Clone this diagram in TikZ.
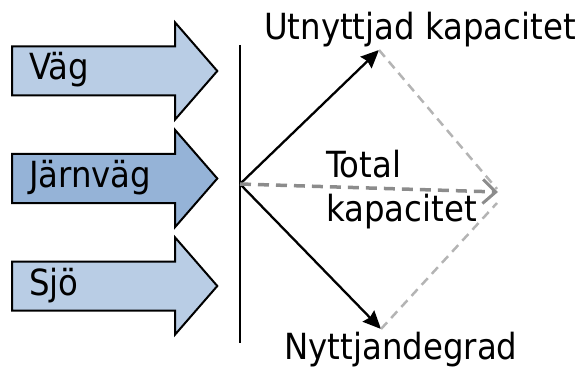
\documentclass[tikz,border=0pt]{standalone}
\usepackage{fontspec}
\setmainfont{DejaVu Sans Condensed}
\usetikzlibrary{shapes.arrows,arrows.meta}

\definecolor{ljusbla}{HTML}{B9CDE5}
\definecolor{morkbla}{HTML}{95B3D7}
\definecolor{gra}{HTML}{8C8C8C}
\definecolor{ljusgra}{HTML}{B4B4B4}

\tikzset{
  trafik/.style={single arrow, draw=black, line width=2, fill=ljusbla,
    single arrow tip angle=98, single arrow head extend=24,
    text width=150, align=left, inner xsep=16, inner ysep=5.5,
    text height=27, text depth=9, anchor=tail,
    font=\fontsize{36}{40}\selectfont},
  etikett/.style={inner sep=0, font=\fontsize{36}{44}\selectfont}
}

\begin{document}
\begin{tikzpicture}[x=1pt,y=-1pt]
\useasboundingbox (0,0) rectangle (582,369);

%Block Arrows
\node [trafik] (vag) at (11,71) {Väg};
\node [trafik, fill=morkbla] (jarnvag) at (11,178.5) {Järnväg};
\node [trafik] (sjo) at (11,286) {Sjö};

%Points
\coordinate (topp) at (240,45);
\coordinate (botten) at (240,343);
\coordinate (o) at (240,184);
\coordinate (u) at (379,50);
\coordinate (n) at (381,329);
\coordinate (t) at (498,192);

%Straight Lines
\draw [line width=2.3] (topp) -- (botten);
\draw [line width=2.3, -{Stealth[length=18,width=16,inset=2]}] (o) -- (u);
\draw [line width=2.3, -{Stealth[length=18,width=16,inset=2]}] (o) -- (n);
%Dashed Lines
\draw [ljusgra, line width=2.5, dash pattern=on 9 off 6] (u) -- (497,189);
\draw [ljusgra, line width=2.5, dash pattern=on 9 off 6] (n) -- (497,203);
\draw [gra, line width=3.5, dash pattern=on 11 off 7, -{Straight Barb[length=13,width=24,line width=3]}] (o) -- (t);

% Text Node
\node [etikett] (utnyttjad) at (420,30) {Utnyttjad kapacitet};
% Text Node
\node [etikett, anchor=north west, align=left] (total) at (326,150) {Total\\kapacitet};
% Text Node
\node [etikett] (nyttjande) at (401,350) {Nyttjandegrad};

\end{tikzpicture}
\end{document}
